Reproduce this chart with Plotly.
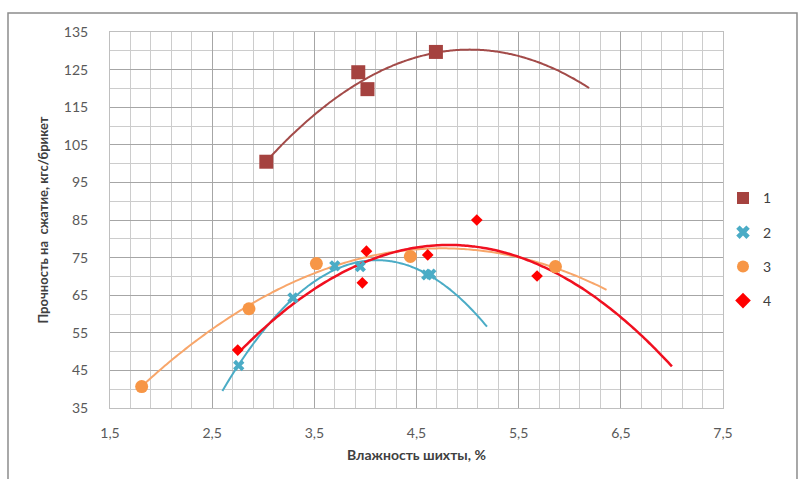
import numpy as np
import plotly.graph_objects as go

# ---- data ----
s1_x = [3.03, 3.93, 4.02, 4.69]
s1_y = [100.5, 124.3, 119.8, 129.7]

s2_x = [2.76, 3.29, 3.70, 3.95, 4.60, 4.64]
s2_y = [46.3, 64.3, 72.8, 72.6, 70.4, 70.6]

s3_x = [1.81, 2.86, 3.52, 4.44, 5.86]
s3_y = [40.7, 61.4, 73.4, 75.3, 72.6]

s4_x = [2.75, 3.97, 4.01, 4.61, 5.09, 5.68]
s4_y = [50.4, 68.3, 76.7, 75.7, 85.0, 70.1]

series_names = ["1", "2", "3", "4"]
x_ticks = [1.5, 2.5, 3.5, 4.5, 5.5, 6.5, 7.5]
y_ticks = [35, 45, 55, 65, 75, 85, 95, 105, 115, 125, 135]

# trendline extents (forecast backward / forward, as in the chart's trendline options)
trend_back = [0.0, 0.16, 0.0, 0.0]
trend_fwd = [1.5, 0.55, 0.5, 1.32]

styles = [
    dict(symbol="square", color="#A5423F", size=14, line_color="#A34B49", lw=2),
    dict(symbol="x", color="#4BACC6", size=10, line_color="#4BACC6", lw=2),
    dict(symbol="circle", color="#F79646", size=13, line_color="#F8A66A", lw=2),
    dict(symbol="diamond", color="#FF0000", size=9, line_color="#F01020", lw=2.5),
]

data = [(s1_x, s1_y), (s2_x, s2_y), (s3_x, s3_y), (s4_x, s4_y)]

fig = go.Figure()

# trendlines (2nd-order polynomial fits)
for i, (xs, ys) in enumerate(data):
    c = np.polyfit(xs, ys, 2)
    xt = np.linspace(min(xs) - trend_back[i], max(xs) + trend_fwd[i], 120)
    fig.add_trace(go.Scatter(
        x=xt, y=np.polyval(c, xt), mode="lines",
        line=dict(color=styles[i]["line_color"], width=styles[i]["lw"], shape="spline"),
        showlegend=False, hoverinfo="skip"))

for i, (xs, ys) in enumerate(data):
    st = styles[i]
    fig.add_trace(go.Scatter(
        x=xs, y=ys, mode="markers", name=series_names[i],
        legendgroup=series_names[i],
        marker=dict(symbol=st["symbol"], color=st["color"], size=st["size"],
                    line=dict(width=0))))

grid_major = "#a6a6a6"
grid_minor = "#cccccc"
tick_font = dict(family="Lato, Liberation Sans, sans-serif", size=14, color="#595959")

fig.update_xaxes(
    range=[1.5, 7.5], tickvals=x_ticks, ticktext=[f"{v:.1f}".replace(".", ",") for v in x_ticks],
    showgrid=True, gridcolor=grid_major, gridwidth=1,
    minor=dict(dtick=0.2, tick0=1.5, showgrid=True, gridcolor=grid_minor, gridwidth=1),
    showline=True, linecolor="#bfbfbf", mirror=True, zeroline=False,
    tickfont=tick_font, ticks="", ticklabelstandoff=12,
    title=dict(text="<b>Влажность шихты, %</b>",
               font=dict(family="Lato, Liberation Sans, sans-serif", size=14, color="#404040"),
               standoff=10),
)
fig.update_yaxes(
    range=[35, 135], tickvals=y_ticks,
    showgrid=True, gridcolor=grid_major, gridwidth=1,
    minor=dict(dtick=5, tick0=35, showgrid=True, gridcolor=grid_minor, gridwidth=1),
    showline=True, linecolor="#bfbfbf", mirror=True, zeroline=False,
    tickfont=tick_font, ticks="", ticklabelstandoff=18,
    title=dict(text="<b>Прочность на  сжатие, кгс/брикет</b>",
               font=dict(family="Lato, Liberation Sans, sans-serif", size=13, color="#404040"),
               standoff=12),
)

# outer chart frame
fig.add_shape(type="rect", xref="paper", yref="paper",
              x0=-0.1664, x1=1.1207, y0=-0.25, y1=1.0505,
              line=dict(color="#8c8c8c", width=1.5), fillcolor="rgba(0,0,0,0)", layer="below")

fig.update_layout(
    width=798, height=479,
    margin=dict(l=110, r=75, t=32, b=71, autoexpand=False),
    paper_bgcolor="white", plot_bgcolor="white",
    separators=", ",
    showlegend=True,
    legend=dict(x=1.0, y=0.6, xanchor="left", yanchor="top",
                font=dict(family="Lato, Liberation Sans, sans-serif", size=14, color="#404040"),
                tracegroupgap=13, itemwidth=30, traceorder="grouped",
                itemsizing="constant",
                bgcolor="rgba(0,0,0,0)"),
    font=dict(family="Lato, Liberation Sans, sans-serif"),
)

fig.write_html("out.html")
